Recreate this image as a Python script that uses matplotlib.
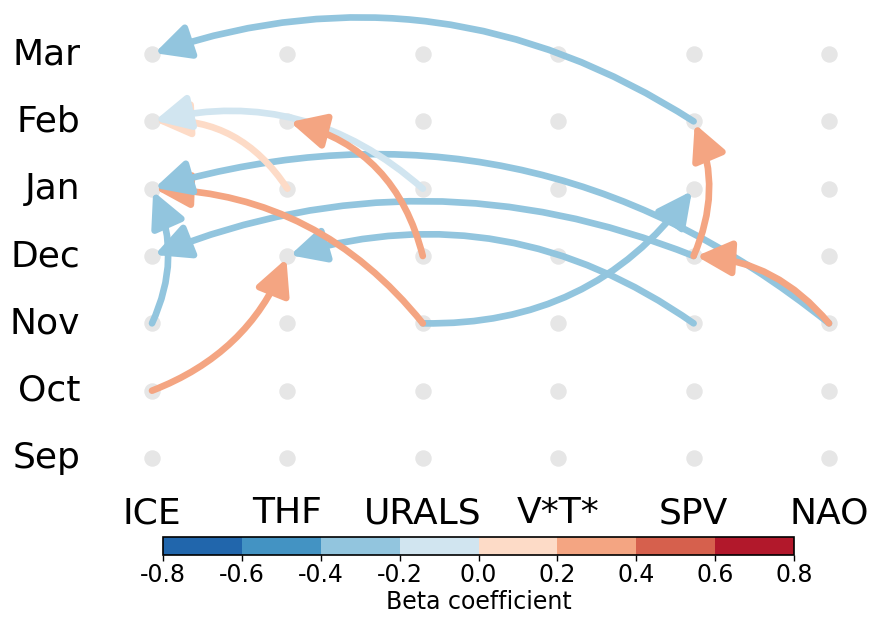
import matplotlib
matplotlib.use("Agg")
import matplotlib.pyplot as plt
import matplotlib as mpl
from matplotlib.patches import FancyArrowPatch
from matplotlib.colors import ListedColormap, BoundaryNorm

plt.rcParams['font.family'] = ['DejaVu Sans']
plt.rcParams['axes.unicode_minus'] = False

variables = ["ICE", "THF", "URALS", "V*T*", "SPV", "NAO"]
months = ["Sep", "Oct", "Nov", "Dec", "Jan", "Feb", "Mar"]

# links: source variable/month -> target variable/month, beta coefficient
src_var = ["SPV", "SPV", "URALS", "SPV", "URALS", "NAO", "ICE", "THF", "URALS", "URALS", "ICE", "NAO", "SPV"]
src_mon = ["Dec", "Nov", "Nov", "Feb", "Nov", "Nov", "Nov", "Jan", "Jan", "Dec", "Oct", "Nov", "Dec"]
dst_var = ["ICE", "THF", "SPV", "ICE", "ICE", "ICE", "ICE", "ICE", "ICE", "THF", "THF", "SPV", "SPV"]
dst_mon = ["Dec", "Dec", "Jan", "Mar", "Jan", "Jan", "Jan", "Feb", "Feb", "Feb", "Dec", "Dec", "Feb"]
beta = [-0.3, -0.3, -0.3, -0.3, 0.3, -0.3, -0.3, 0.1, -0.1, 0.3, 0.3, 0.3, 0.3]
curv = [0.20, 0.24, 0.26, 0.24, 0.23, 0.26, 0.23, 0.29, 0.26, 0.30, 0.22, 0.22, 0.22]

cb_levels = [-0.8, -0.6, -0.4, -0.2, 0.0, 0.2, 0.4, 0.6, 0.8]
cb_colors = ["#2166ac", "#4393c3", "#92c5de", "#d1e5f0",
             "#fddbc7", "#f4a582", "#d6604d", "#b2182b"]

W, H = 876, 618
fig = plt.figure(figsize=(W / 100, H / 100), dpi=100)

# main axes covering the figure; grid units
x0px, dxpx = 152.0, 135.4
y0px, dypx = 458.0, 67.33
ax = fig.add_axes([0, 0, 1, 1])
ax.set_xlim(-x0px / dxpx, (W - x0px) / dxpx)
ax.set_ylim(-(H - y0px) / dypx, y0px / dypx)
ax.axis("off")

cmap = ListedColormap(cb_colors)
norm = BoundaryNorm(cb_levels, cmap.N)

# nodes
xs = [i for i in range(len(variables)) for j in range(len(months))]
ys = [j for i in range(len(variables)) for j in range(len(months))]
ax.scatter(xs, ys, s=140, color="#e6e6e6", zorder=1, linewidths=0)

# links
for k in range(len(beta)):
    p0 = (variables.index(src_var[k]), months.index(src_mon[k]))
    p1 = (variables.index(dst_var[k]), months.index(dst_mon[k]))
    arr = FancyArrowPatch(p0, p1,
                          connectionstyle=f"arc3,rad={curv[k]}",
                          arrowstyle="-|>,head_length=21,head_width=10.5",
                          mutation_scale=1, lw=4.8,
                          color=cmap(norm(beta[k])),
                          shrinkA=0, shrinkB=2, zorder=2 + k)
    ax.add_patch(arr)

# month labels
for j, m in enumerate(months):
    ax.text(-0.53, j, m, ha="right", va="center", fontsize=26)

# variable labels
for i, v in enumerate(variables):
    ax.text(i, -0.82, v, ha="center", va="center", fontsize=26)

# colorbar
cax = fig.add_axes([163 / W, (H - 555) / H, (794 - 163) / W, 18 / H])
cb = mpl.colorbar.ColorbarBase(cax, cmap=cmap, norm=norm, orientation="horizontal",
                               boundaries=cb_levels, ticks=cb_levels)
cb.set_ticklabels([f"{v:.1f}" for v in cb_levels])
cb.ax.tick_params(labelsize=17, length=4, width=1, pad=2)
cb.outline.set_linewidth(1.2)
cb.set_label("Beta coefficient", fontsize=17, labelpad=2)

fig.savefig("out.png", dpi=100)
